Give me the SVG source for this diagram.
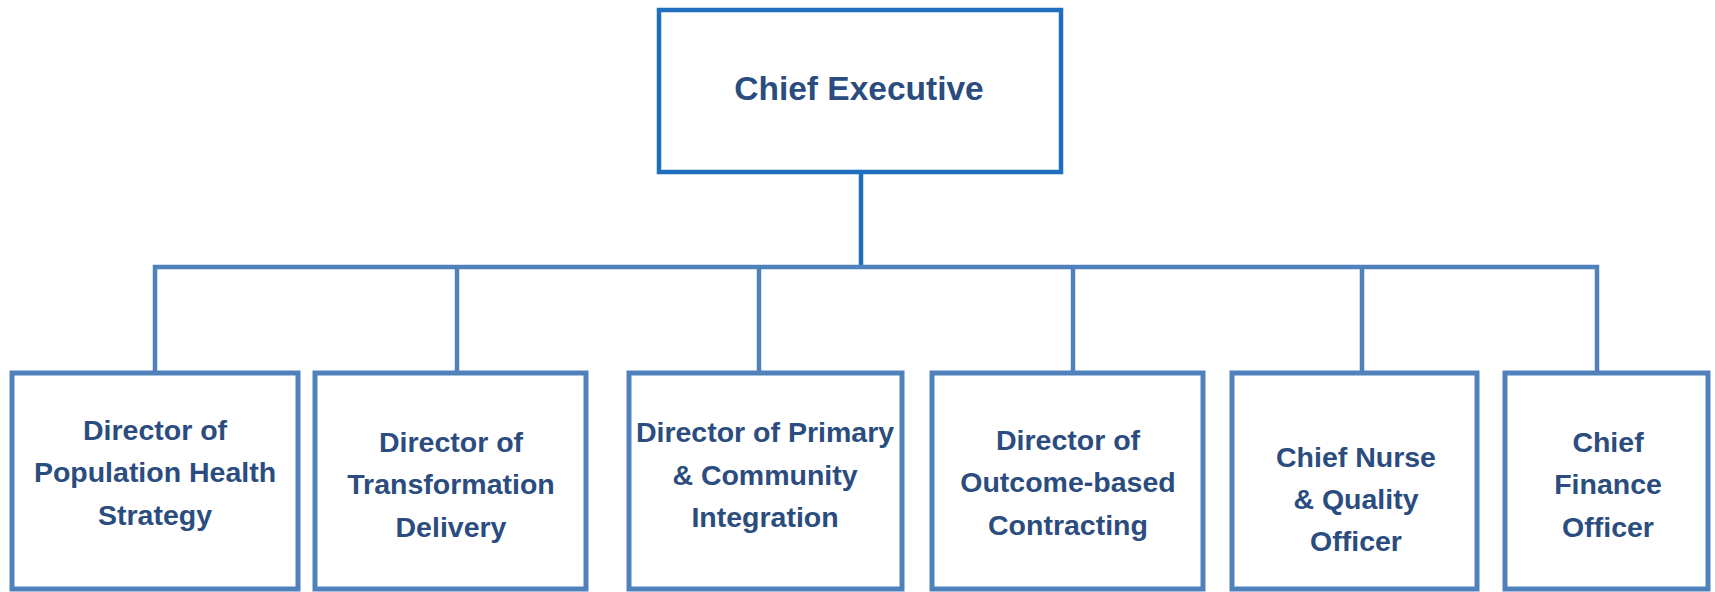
<svg xmlns="http://www.w3.org/2000/svg" width="1715" height="592" viewBox="0 0 1715 592">
<style>
.box{fill:#ffffff;stroke:#4f81bd;stroke-width:5}
.top{fill:#ffffff;stroke:#1f6fbf;stroke-width:4.5}
.con{fill:none;stroke:#4f81bd;stroke-width:4.5}
.t{font-family:"Liberation Sans",Arial,sans-serif;font-weight:bold;font-size:28.5px;fill:#2b4c7e;text-anchor:middle}
.tt{font-size:33.5px}
</style>
<rect width="1715" height="592" fill="#ffffff"/>
<g id="connectors">
<line class="con" x1="861" y1="172" x2="861" y2="267" style="stroke:#1f6fbf"/>
<polyline class="con" points="155,373 155,267 1597,267 1597,373"/>
<line class="con" x1="457" y1="267" x2="457" y2="373"/>
<line class="con" x1="759" y1="267" x2="759" y2="373"/>
<line class="con" x1="1073" y1="267" x2="1073" y2="373"/>
<line class="con" x1="1362" y1="267" x2="1362" y2="373"/>
</g>
<g id="chief-executive">
<rect class="top" x="659" y="10" width="402" height="162"/>
<text class="t tt" x="859" y="100">Chief Executive</text>
</g>
<g id="population-health">
<rect class="box" x="12" y="373" width="286" height="216"/>
<text class="t" x="155"><tspan x="155" y="440">Director of</tspan><tspan x="155" y="482">Population Health</tspan><tspan x="155" y="525">Strategy</tspan></text>
</g>
<g id="transformation">
<rect class="box" x="315" y="373" width="271" height="216"/>
<text class="t" x="451"><tspan x="451" y="452">Director of</tspan><tspan x="451" y="494">Transformation</tspan><tspan x="451" y="537">Delivery</tspan></text>
</g>
<g id="primary-community">
<rect class="box" x="629" y="373" width="273" height="216"/>
<text class="t" x="765"><tspan x="765" y="442">Director of Primary</tspan><tspan x="765" y="485">&amp; Community</tspan><tspan x="765" y="527">Integration</tspan></text>
</g>
<g id="outcome-contracting">
<rect class="box" x="932" y="373" width="271" height="216"/>
<text class="t" x="1068"><tspan x="1068" y="450">Director of</tspan><tspan x="1068" y="492">Outcome-based</tspan><tspan x="1068" y="535">Contracting</tspan></text>
</g>
<g id="chief-nurse">
<rect class="box" x="1232" y="373" width="245" height="216"/>
<text class="t" x="1356"><tspan x="1356" y="467">Chief Nurse</tspan><tspan x="1356" y="509">&amp; Quality</tspan><tspan x="1356" y="551">Officer</tspan></text>
</g>
<g id="chief-finance">
<rect class="box" x="1505" y="373" width="203" height="216"/>
<text class="t" x="1608"><tspan x="1608" y="452">Chief</tspan><tspan x="1608" y="494">Finance</tspan><tspan x="1608" y="537">Officer</tspan></text>
</g>
</svg>
